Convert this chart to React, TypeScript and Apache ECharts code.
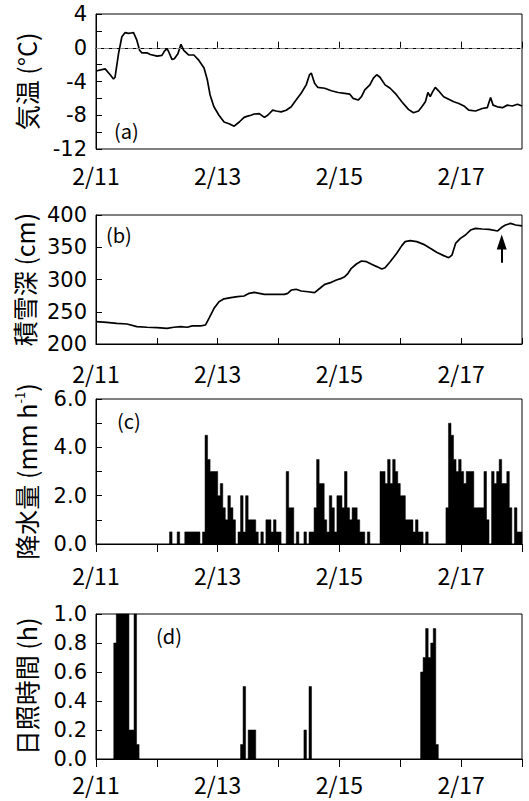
import React, { useEffect, useRef } from 'react';
import * as echarts from 'echarts';

// ---- data (hours since 2/11 00:00) ----
const xTickLabels = ['2/11', '2/13', '2/15', '2/17'];

const tempHours = [0, 3.6, 5.6, 6.9, 7.5, 8.9, 10.2, 11.5, 12.8, 13.8, 14.8, 16.1, 17.2, 18.1, 20.1, 21.4, 24.1, 26.0, 27.0, 28.0, 28.7, 30.0, 30.9, 32.3, 33.5, 34.6, 36.6, 38.6, 40.6, 42.6, 43.9, 45.0, 46.5, 48.5, 50.5, 52.5, 54.5, 56.5, 58.4, 59.8, 61.1, 62.4, 64.4, 66.4, 67.7, 69.7, 71.0, 73.0, 75.0, 77.0, 78.9, 80.9, 82.9, 84.2, 84.9, 86.2, 87.5, 90.2, 92.8, 95.5, 98.1, 100.1, 101.4, 103.4, 104.7, 106.0, 108.0, 109.4, 110.7, 112.0, 114.0, 116.0, 118.0, 120.6, 123.2, 125.2, 127.2, 128.5, 129.9, 130.9, 131.8, 132.8, 133.8, 135.1, 137.1, 139.1, 141.1, 143.1, 145.1, 147.0, 149.7, 152.3, 154.3, 155.6, 156.6, 158.3, 160.3, 162.2, 164.2, 166.2, 168];
const tempValues = [-2.76, -2.5, -3.2, -3.7, -3.5, -0.66, 1.3, 1.8, 1.7, 1.75, 1.8, 0.9, -0.3, -0.6, -0.6, -0.8, -1.0, -0.9, -0.4, -0.1, -0.5, -1.4, -1.3, -0.7, 0.4, -0.3, -0.86, -0.86, -1.5, -2.4, -3.8, -5.6, -7.0, -8.0, -8.8, -9.0, -9.3, -8.8, -8.25, -8.1, -8.0, -7.85, -7.8, -8.25, -8.0, -7.4, -7.5, -7.6, -7.4, -7.0, -6.2, -5.4, -4.4, -3.2, -3.0, -4.2, -4.7, -4.8, -5.1, -5.3, -5.4, -5.5, -6.0, -6.2, -5.8, -5.0, -4.4, -3.6, -3.2, -3.5, -4.4, -4.8, -5.4, -6.4, -7.3, -7.7, -7.5, -7.0, -6.4, -5.3, -5.8, -5.2, -4.7, -5.1, -5.8, -6.1, -6.4, -6.6, -6.9, -7.4, -7.5, -7.2, -7.1, -5.9, -6.8, -7.0, -7.1, -6.8, -6.9, -6.7, -6.9];

const snowHours = [0, 4.2, 8.2, 12.2, 16.1, 20.1, 24.1, 28.0, 30.7, 33.3, 36.0, 38.0, 41.3, 43.2, 44.6, 46.5, 48.5, 50.5, 53.2, 55.8, 58.4, 60.4, 62.4, 64.4, 66.4, 69.0, 71.7, 74.3, 75.6, 77.0, 78.9, 80.9, 83.6, 86.2, 88.2, 90.2, 92.8, 94.8, 96.8, 98.1, 99.4, 100.7, 102.7, 104.7, 106.7, 108.7, 110.7, 112.7, 114.0, 116.0, 118.6, 120.6, 121.9, 123.9, 126.5, 129.2, 131.8, 134.5, 137.1, 139.1, 140.4, 141.8, 143.7, 145.7, 147.7, 149.7, 152.3, 155.0, 158.4, 160.0, 161.5, 163.5, 165.5, 168];
const snowValues = [234.6, 233.6, 232, 231, 227, 226, 225.3, 224.3, 226, 227, 226, 228, 228, 229.5, 240, 255, 265.6, 270, 272, 273.4, 274.4, 278.6, 280, 278.6, 277, 277, 277, 277, 278.5, 283.7, 284.8, 282.2, 281, 279.6, 286, 292.5, 295.6, 299.2, 301.8, 304.4, 309.6, 317.3, 324, 328.7, 327.6, 323.5, 320, 316.3, 318.3, 327.6, 340.6, 352.5, 358.7, 360.2, 358.7, 354.5, 348.3, 342, 337, 333.8, 337.8, 356, 363.8, 369, 376.7, 379.3, 378.3, 377.8, 375.2, 381, 384.5, 387, 384.5, 383];

const arrowHour = 160;
const arrowFrom = 326;
const arrowTo = 358;

const precipHours = [29, 32, 35, 36, 37, 38, 39, 40, 42, 43, 44, 45, 46, 47, 48, 49, 50, 51, 52, 53, 54, 56, 57, 58, 59, 60, 61, 62, 63, 65, 67, 68, 69, 70, 71, 72, 75, 76, 77, 79, 82, 84, 85, 86, 87, 88, 89, 90, 91, 92, 93, 94, 95, 96, 97, 98, 99, 100, 101, 102, 103, 104, 105, 107, 112, 113, 114, 115, 116, 117, 118, 119, 120, 121, 122, 123, 124, 125, 126, 127, 128, 130, 138, 139, 140, 141, 142, 143, 144, 145, 146, 147, 148, 149, 150, 151, 152, 153, 154, 156, 157, 158, 159, 160, 161, 162, 163, 165, 166, 167];
const precipValues = [0.5, 0.5, 0.5, 0.5, 0.5, 0.5, 0.5, 0.5, 0.5, 4.5, 3.5, 3.0, 3.0, 3.0, 2.0, 2.5, 1.5, 1.0, 2.0, 1.5, 1.0, 0.5, 2.0, 0.5, 2.0, 1.0, 1.0, 1.0, 0.5, 0.5, 1.0, 1.0, 0.5, 1.0, 0.5, 0.5, 3.0, 1.5, 1.5, 0.5, 0.5, 0.5, 0.5, 1.5, 3.5, 2.5, 2.5, 1.0, 0.5, 2.0, 1.5, 0.5, 2.0, 2.0, 1.5, 3.0, 1.5, 1.0, 1.5, 1.5, 1.0, 0.5, 0.5, 0.5, 3.0, 3.0, 2.5, 3.5, 2.5, 3.5, 3.0, 2.5, 2.0, 2.0, 1.0, 1.0, 1.0, 0.5, 1.0, 0.5, 0.5, 0.5, 1.5, 5.0, 4.5, 3.5, 3.0, 3.5, 3.0, 2.5, 3.0, 3.0, 3.0, 1.5, 1.5, 1.5, 1.5, 3.0, 1.0, 3.0, 2.5, 3.0, 3.5, 2.5, 2.5, 3.0, 1.5, 1.5, 0.5, 0.5];

const sunHours = [7, 8, 9, 10, 11, 12, 13, 14, 15, 16, 57, 58, 60, 61, 62, 82, 84, 128, 129, 130, 131, 132, 133, 134];
const sunValues = [0.8, 1.0, 1.0, 1.0, 1.0, 1.0, 0.2, 0.2, 1.0, 0.1, 0.1, 0.5, 0.2, 0.2, 0.2, 0.2, 0.5, 0.6, 0.7, 0.9, 0.7, 0.8, 0.9, 0.1];

const panelLabels = ['(a)', '(b)', '(c)', '(d)'];
const axisTitles = ['気温 (°C)', '積雪深 (cm)', '降水量 (mm h{sup|-1})', '日照時間 (h)'];

// ---- styles ----
const CJK = '"Noto Sans CJK JP", sans-serif';
const NUM = '"DejaVu Sans", sans-serif';

const grids = [
  { top: 14, height: 135 },
  { top: 215, height: 129 },
  { top: 399, height: 145 },
  { top: 614, height: 145 },
];
const xLabelMargin = [17, 20, 22, 16];
const labelPos = [
  [114, 130],
  [106, 234],
  [117, 420],
  [156, 635],
];

// Hourly bars: each run of consecutive hours is drawn as one stepped polygon
// (all vertices come from api.coord), so no seams appear between bars.
const makeStepRender = (hours: number[], values: number[]) => {
  const byHour = new Map<number, number>();
  hours.forEach((h, i) => byHour.set(h, values[i]));
  return (_params: any, api: any) => {
    const h = api.value(0);
    if (byHour.has(h - 1)) return { type: 'group', children: [] };
    const pts: number[][] = [api.coord([h, 0])];
    let k = h;
    while (byHour.has(k)) {
      const v = byHour.get(k) as number;
      pts.push(api.coord([k, v]));
      pts.push(api.coord([k + 1, v]));
      k += 1;
    }
    pts.push(api.coord([k, 0]));
    return {
      type: 'polygon',
      shape: { points: pts },
      style: { fill: '#000', stroke: '#000', lineWidth: 0.5 },
    };
  };
};

export default function App() {
  const ref = useRef<HTMLDivElement>(null);

  useEffect(() => {
    if (!ref.current) return;
    const chart = echarts.init(ref.current, undefined, { renderer: 'svg' });

    const xAxes = grids.map((_, i) => ({
      type: 'value',
      gridIndex: i,
      min: 0,
      max: 168,
      interval: 24,
      axisLine: { show: true, lineStyle: { color: '#000', width: 1 } },
      axisTick: { show: true, inside: i < 2, length: i < 2 ? 6 : 8, lineStyle: { color: '#000', width: 1 } },
      axisLabel: {
        margin: xLabelMargin[i],
        color: '#000',
        fontSize: 23,
        lineHeight: 18,
        fontFamily: CJK,
        formatter: (v: number) => (v % 48 === 0 && v < 168 ? xTickLabels[v / 48] : ''),
      },
      splitLine: { show: false },
    }));

    const yCfg = [
      { min: -12, max: 4, interval: 2, fmt: (v: number) => (v % 4 === 0 ? String(v) : '') },
      { min: 200, max: 400, interval: 50, fmt: (v: number) => String(v) },
      { min: 0, max: 6, interval: 1, fmt: (v: number) => (v % 2 === 0 ? v.toFixed(1) : '') },
      { min: 0, max: 1, interval: 0.2, fmt: (v: number) => v.toFixed(1) },
    ];
    const yAxes = yCfg.map((c, i) => ({
      type: 'value',
      gridIndex: i,
      min: c.min,
      max: c.max,
      interval: c.interval,
      name: axisTitles[i],
      nameLocation: 'middle',
      nameRotate: 90,
      nameGap: 58,
      nameTextStyle: {
        fontSize: 25,
        fontFamily: CJK,
        color: '#000',
        rich: { sup: { fontSize: 13, fontFamily: CJK, color: '#000', verticalAlign: 'top' } },
      },
      axisLine: { show: true, lineStyle: { color: '#000', width: 1 } },
      axisTick: { show: true, inside: true, length: 6, lineStyle: { color: '#000', width: 1 } },
      axisLabel: { margin: 9, color: '#000', fontSize: 21, lineHeight: 15, fontFamily: NUM, formatter: c.fmt },
      splitLine: { show: false },
    }));

    chart.setOption({
      animation: false,
      backgroundColor: '#fff',
      grid: grids.map((g) => ({
        left: 96,
        right: 7,
        top: g.top,
        height: g.height,
        show: true,
        borderColor: '#000',
        borderWidth: 1,
        backgroundColor: 'transparent',
      })),
      xAxis: xAxes,
      yAxis: yAxes,
      graphic: panelLabels.map((t, i) => ({
        type: 'text',
        x: labelPos[i][0],
        y: labelPos[i][1],
        style: { text: t, fill: '#000', font: `20px ${CJK}`, verticalAlign: 'middle' },
      })),
      series: [
        {
          type: 'line',
          xAxisIndex: 0,
          yAxisIndex: 0,
          data: tempHours.map((h, i) => [h, tempValues[i]]),
          symbol: 'none',
          lineStyle: { color: '#000', width: 1.7 },
          markLine: {
            silent: true,
            symbol: ['none', 'none'],
            label: { show: false },
            lineStyle: { color: '#888', type: [5, 3], width: 1 },
            data: [{ yAxis: 0 }],
          },
        },
        {
          type: 'line',
          xAxisIndex: 1,
          yAxisIndex: 1,
          data: snowHours.map((h, i) => [h, snowValues[i]]),
          symbol: 'none',
          lineStyle: { color: '#000', width: 1.7 },
          markLine: {
            silent: true,
            symbol: ['none', 'triangle'],
            symbolSize: [10, 15],
            label: { show: false },
            lineStyle: { color: '#000', type: 'solid', width: 2 },
            data: [[{ coord: [arrowHour, arrowFrom] }, { coord: [arrowHour, arrowTo] }]],
          },
        },
        {
          type: 'custom',
          xAxisIndex: 2,
          yAxisIndex: 2,
          renderItem: makeStepRender(precipHours, precipValues),
          encode: { x: 0, y: 1 },
          data: precipHours.map((h, i) => [h, precipValues[i]]),
        },
        {
          type: 'custom',
          xAxisIndex: 3,
          yAxisIndex: 3,
          renderItem: makeStepRender(sunHours, sunValues),
          encode: { x: 0, y: 1 },
          data: sunHours.map((h, i) => [h, sunValues[i]]),
        },
      ],
    });

    return () => chart.dispose();
  }, []);

  return (
    <div
      ref={ref}
      style={{ position: 'fixed', left: 0, top: 0, width: 529, height: 801, background: '#fff' }}
    />
  );
}
